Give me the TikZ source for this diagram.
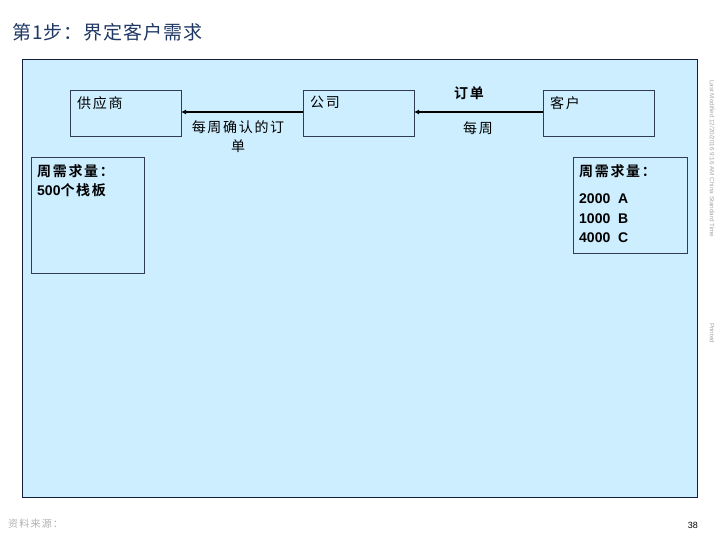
\documentclass[tikz,border=0pt]{standalone}
\usepackage{fontspec}
\setmainfont{Noto Sans CJK SC}[BoldFont={Noto Sans CJK SC Bold}, LetterSpace=12]
\newfontfamily\latinsans{Liberation Sans}
\newfontfamily\titlefont{Noto Sans CJK SC}[LetterSpace=5]
\usetikzlibrary{arrows.meta}
\definecolor{panelfill}{RGB}{204,238,255}
\definecolor{panelline}{RGB}{20,30,60}
\definecolor{boxline}{RGB}{50,60,80}
\definecolor{titleblue}{RGB}{31,56,100}
\tikzset{
  box/.style={draw=boxline, line width=0.9pt, fill=panelfill},
  lbl/.style={anchor=north west, inner sep=0pt, font=\fontsize{14}{16}\selectfont},
  flow/.style={draw=black, line width=1.4pt, -{Latex[length=5pt,width=5pt]}},
  side/.style={font=\latinsans\fontsize{6.3}{7}\selectfont, text=gray!70, rotate=-90, inner sep=0pt}
}
\begin{document}
\begin{tikzpicture}[x=1pt,y=-1pt]
\useasboundingbox (0,0) rectangle (720,540);
\fill[white] (0,0) rectangle (720,540);
% title
\node[anchor=west, inner sep=0pt, text=titleblue, font=\titlefont\fontsize{19}{21}\selectfont] (title) at (12,32) {第1步：界定客户需求};
% panel
\draw[fill=panelfill, draw=panelline, line width=1pt] (22,60) rectangle (697,497);
% boxes
\draw[box] (70,90) rectangle (181,136);
\coordinate (supL) at (181,112);
\draw[box] (303,90) rectangle (414,136);
\coordinate (coL) at (303,112);
\coordinate (coR) at (414,112);
\draw[box] (543,90) rectangle (654,136);
\coordinate (cuL) at (543,112);
\node[lbl] (sup) at (77,96) {供应商};
\node[lbl] (co) at (310,96) {公司};
\node[lbl] (cu) at (550,96) {客户};
% arrows
\draw[flow] (coL) -- (supL);
\draw[flow] (cuL) -- (coR);
\node[align=center, inner sep=0pt, font=\fontsize{14}{19}\selectfont] (wk1) at (238,137) {每周确认的订\\单};
\node[inner sep=0pt, font=\bfseries\fontsize{14}{15}\selectfont] (ord) at (469,93) {订单};
\node[inner sep=0pt, font=\fontsize{14}{15}\selectfont] (wk2) at (478,128) {每周};
% demand boxes
\draw[box] (31,157) rectangle (144,273);
\node[lbl, align=left, font=\bfseries\fontsize{14}{19}\selectfont] (dl) at (37,164) {周需求量：\\{\latinsans\bfseries 500}个栈板};
\draw[box] (573,157) rectangle (687,253);
\node[lbl, align=left, font=\bfseries\fontsize{14}{19}\selectfont] (dr1) at (579,164) {周需求量：};
\node[lbl, align=left, font=\latinsans\bfseries\fontsize{14}{19.5}\selectfont] (dr2) at (579,194) {2000\ \ A\\1000\ \ B\\4000\ \ C};
% side texts
\node[side, anchor=west] (mod) at (712,80) {Last Modified 12/20/2016 9:16 AM China Standard Time};
\node[side, anchor=west] (pr) at (712,323) {Printed};
% footer
\node[anchor=west, inner sep=0pt, text=gray!60, font=\fontsize{10}{12}\selectfont] (src) at (8,524) {资料来源：};
\node[anchor=east, inner sep=0pt, font=\latinsans\fontsize{9}{11}\selectfont] (pg) at (698,525) {38};
\end{tikzpicture}
\end{document}
